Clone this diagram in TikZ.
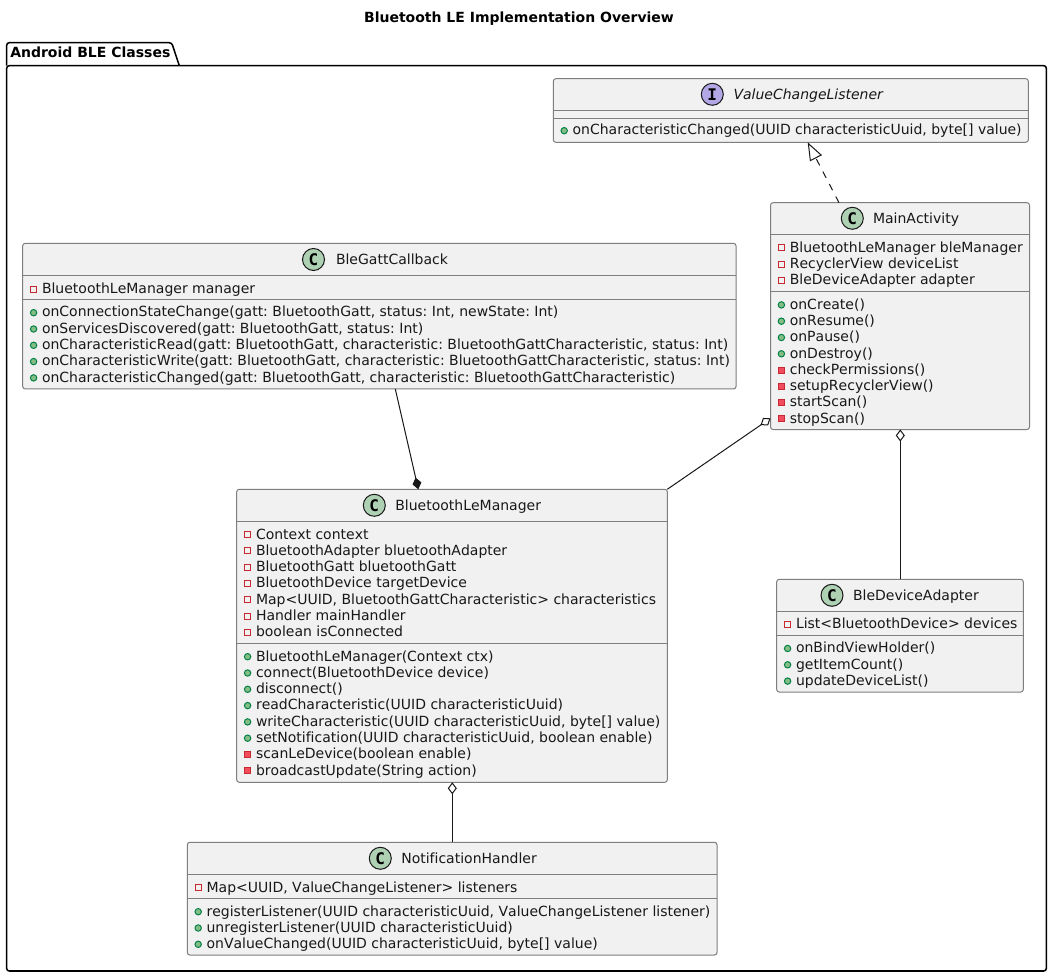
\documentclass[tikz,border=0pt]{standalone}
\usepackage{fontspec}
\setmainfont[Ligatures={NoCommon},Kerning=Off]{DejaVu Sans}
\newfontfamily\badgefont{DejaVu Sans Mono}
\usetikzlibrary{arrows.meta,calc}
\frenchspacing
\definecolor{ink}{HTML}{181818}
\definecolor{boxline}{HTML}{7E7E7E}
\definecolor{boxfill}{HTML}{F1F1F1}
\definecolor{classbadge}{HTML}{ADD1B2}
\definecolor{ifacebadge}{HTML}{B4A7E5}
\definecolor{privline}{HTML}{C82930}
\definecolor{privfill}{HTML}{F24D5C}
\definecolor{publine}{HTML}{038048}
\definecolor{pubfill}{HTML}{84BE84}
\tikzset{
  basefont/.style={font=\fontsize{10.5}{12}\selectfont},
  umlbox/.style={draw=boxline,fill=boxfill,line width=.75pt,rounded corners=1.9pt,inner sep=0pt,outer sep=0pt,anchor=north west},
  divider/.style={draw=boxline,line width=.75pt},
  membertext/.style={basefont,text=ink,inner sep=0pt,outer sep=0pt,anchor=base west},
  titletext/.style={membertext},
  badge/.style={circle,draw=ink,line width=.75pt,minimum size=16.5pt,inner sep=0pt,font=\fontsize{12}{12}\selectfont\badgefont\bfseries,text=black},
  mk-p/.style={rectangle,draw=privline,fill=boxfill,line width=.75pt,minimum size=4.5pt,inner sep=0pt},
  mk-q/.style={rectangle,draw=privline,fill=privfill,line width=.75pt,minimum size=4.5pt,inner sep=0pt},
  mk-o/.style={circle,draw=publine,fill=pubfill,line width=.75pt,minimum size=4.8pt,inner sep=0pt},
  pkgline/.style={draw=black,line width=1.15pt},
  conn/.style={draw=ink,line width=.75pt},
  realize/.style={conn,dash pattern=on 5.25pt off 5.25pt,-{Triangle[open,fill=white,length=13.5pt,width=10pt,sep=0pt]}},
  compose/.style={conn,-{Diamond[fill=ink,length=9pt,width=6.8pt]}},
  aggregate/.style={conn,-{Diamond[open,fill=white,length=9pt,width=6.8pt]}},
}
% id, x1, y1, x2, y2, first divider, second divider
\newcommand{\classbox}[7]{%
  \node[umlbox,minimum width={(#4-#2)*0.75pt},minimum height={(#5-#3)*0.75pt}] (#1) at (#2,#3) {};
  \draw[divider] ($(#1.north west)+(0,#6-#3)$) -- ($(#1.north east)+(0,#6-#3)$);
  \draw[divider] ($(#1.north west)+(0,#7-#3)$) -- ($(#1.north east)+(0,#7-#3)$);
}
% id, badge x, badge y, letter, badge colour, title x, title (with font)
\newcommand{\classhead}[7]{%
  \node[badge,fill=#5] (#1-badge) at (#2,#3) {#4};
  \node[titletext] (#1-title) at (#6,#3+5) {#7};
}
% id, box x1, first baseline, list
\newcommand{\members}[4]{%
  \foreach \kd/\txt [count=\i] in {#4} {
    \node[mk-\kd] (#1-m\i) at ({#2+10.9},{#3+(\i-1)*16.297-4.3}) {};
    \node[membertext] (#1-t\i) at ({#2+19.3},{#3+(\i-1)*16.297}) {\txt};
  }
}
\begin{document}
\begin{tikzpicture}[x=0.75pt,y=-0.75pt]
\useasboundingbox (0,0) rectangle (1051,977);
\fill[white] (0,0) rectangle (1051,977);

\node[basefont,font=\fontsize{10.5}{12}\selectfont\bfseries,inner sep=0pt,anchor=base] (title) at (519,23) {Bluetooth LE Implementation Overview};

% package
\draw[pkgline,rounded corners=1.9pt] (6.7,65.7) -- (6.7,42.7) -- (171.7,42.7) -- (179.3,65.7);
\draw[pkgline,rounded corners=1.9pt] (6.7,65.7) -- (6.7,971) -- (1046.3,971) -- (1046.3,65.7) -- cycle;
\node[basefont,font=\fontsize{10.5}{12}\selectfont\bfseries,inner sep=0pt,anchor=base west] (pkg) at (10,58) {Android BLE Classes};

% classes
\classbox{vcl}{553.3}{78.7}{1028.3}{142.3}{110.7}{118.3}
\classhead{vcl}{712.3}{94.3}{I}{ifacebadge}{733.5}{\itshape ValueChangeListener}
\members{vcl}{553.3}{135}{o/{onCharacteristicChanged(UUID characteristicUuid, byte[] value)}}

\classbox{main}{770.5}{202.7}{1029.5}{429.5}{234.3}{291.7}
\classhead{main}{852.3}{218.3}{C}{classbadge}{873}{MainActivity}
\members{main}{770.5}{252.2}{p/{BluetoothLeManager bleManager},p/{RecyclerView deviceList},p/{BleDeviceAdapter adapter}}
\members{mainm}{770.5}{309.2}{o/{onCreate()},o/{onResume()},o/{onPause()},o/{onDestroy()},q/{checkPermissions()},q/{setupRecyclerView()},q/{startScan()},q/{stopScan()}}

\classbox{gatt}{22.7}{243.3}{736}{389}{275.7}{299.3}
\classhead{gatt}{313.5}{259.5}{C}{classbadge}{336}{BleGattCallback}
\members{gatt}{22.7}{293.5}{p/{BluetoothLeManager manager}}
\members{gattm}{22.7}{317}{o/{onConnectionStateChange(gatt: BluetoothGatt, status: Int, newState: Int)},o/{onServicesDiscovered(gatt: BluetoothGatt, status: Int)},o/{onCharacteristicRead(gatt: BluetoothGatt, characteristic: BluetoothGattCharacteristic, status: Int)},o/{onCharacteristicWrite(gatt: BluetoothGatt, characteristic: BluetoothGattCharacteristic, status: Int)},o/{onCharacteristicChanged(gatt: BluetoothGatt, characteristic: BluetoothGattCharacteristic)}}

\classbox{mgr}{236.7}{489.3}{667.3}{782.3}{521.3}{643.3}
\classhead{mgr}{374.3}{505.3}{C}{classbadge}{395.3}{BluetoothLeManager}
\members{mgr}{236.7}{539}{p/{Context context},p/{BluetoothAdapter bluetoothAdapter},p/{BluetoothGatt bluetoothGatt},p/{BluetoothDevice targetDevice},p/{Map<UUID, BluetoothGattCharacteristic> characteristics},p/{Handler mainHandler},p/{boolean isConnected}}
\members{mgrm}{236.7}{661}{o/{BluetoothLeManager(Context ctx)},o/{connect(BluetoothDevice device)},o/{disconnect()},o/{readCharacteristic(UUID characteristicUuid)},o/{writeCharacteristic(UUID characteristicUuid, byte[] value)},o/{setNotification(UUID characteristicUuid, boolean enable)},q/{scanLeDevice(boolean enable)},q/{broadcastUpdate(String action)}}

\classbox{adp}{776.7}{579.3}{1023.3}{692}{611.3}{635.3}
\classhead{adp}{832}{595.3}{C}{classbadge}{853}{BleDeviceAdapter}
\members{adp}{776.7}{628.8}{p/{List<BluetoothDevice> devices}}
\members{adpm}{776.7}{652.8}{o/{onBindViewHolder()},o/{getItemCount()},o/{updateDeviceList()}}

\classbox{ntf}{187.3}{842.3}{717}{955}{874.3}{898.3}
\classhead{ntf}{380.3}{858.3}{C}{classbadge}{401.3}{NotificationHandler}
\members{ntf}{187.3}{892}{p/{Map<UUID, ValueChangeListener> listeners}}
\members{ntfm}{187.3}{916}{o/{registerListener(UUID characteristicUuid, ValueChangeListener listener)},o/{unregisterListener(UUID characteristicUuid)},o/{onValueChanged(UUID characteristicUuid, byte[] value)}}

% connectors
\draw[realize] ($(main.north west)+(68.5,0)$) -- ($(vcl.south west)+(254.4,0)$);
\draw[compose] ($(gatt.south west)+(372.6,0)$) -- ($(mgr.north west)+(181.6,0)$);
\draw[aggregate] (mgr.north east) -- ($(main.south west)+(0,-11.2)$);
\draw[aggregate] ($(adp.north west)+(123.6,0)$) -- ($(main.south west)+(129.8,0)$);
\draw[aggregate] ($(ntf.north west)+(265,0)$) -- ($(mgr.south west)+(215.6,0)$);
\end{tikzpicture}
\end{document}
